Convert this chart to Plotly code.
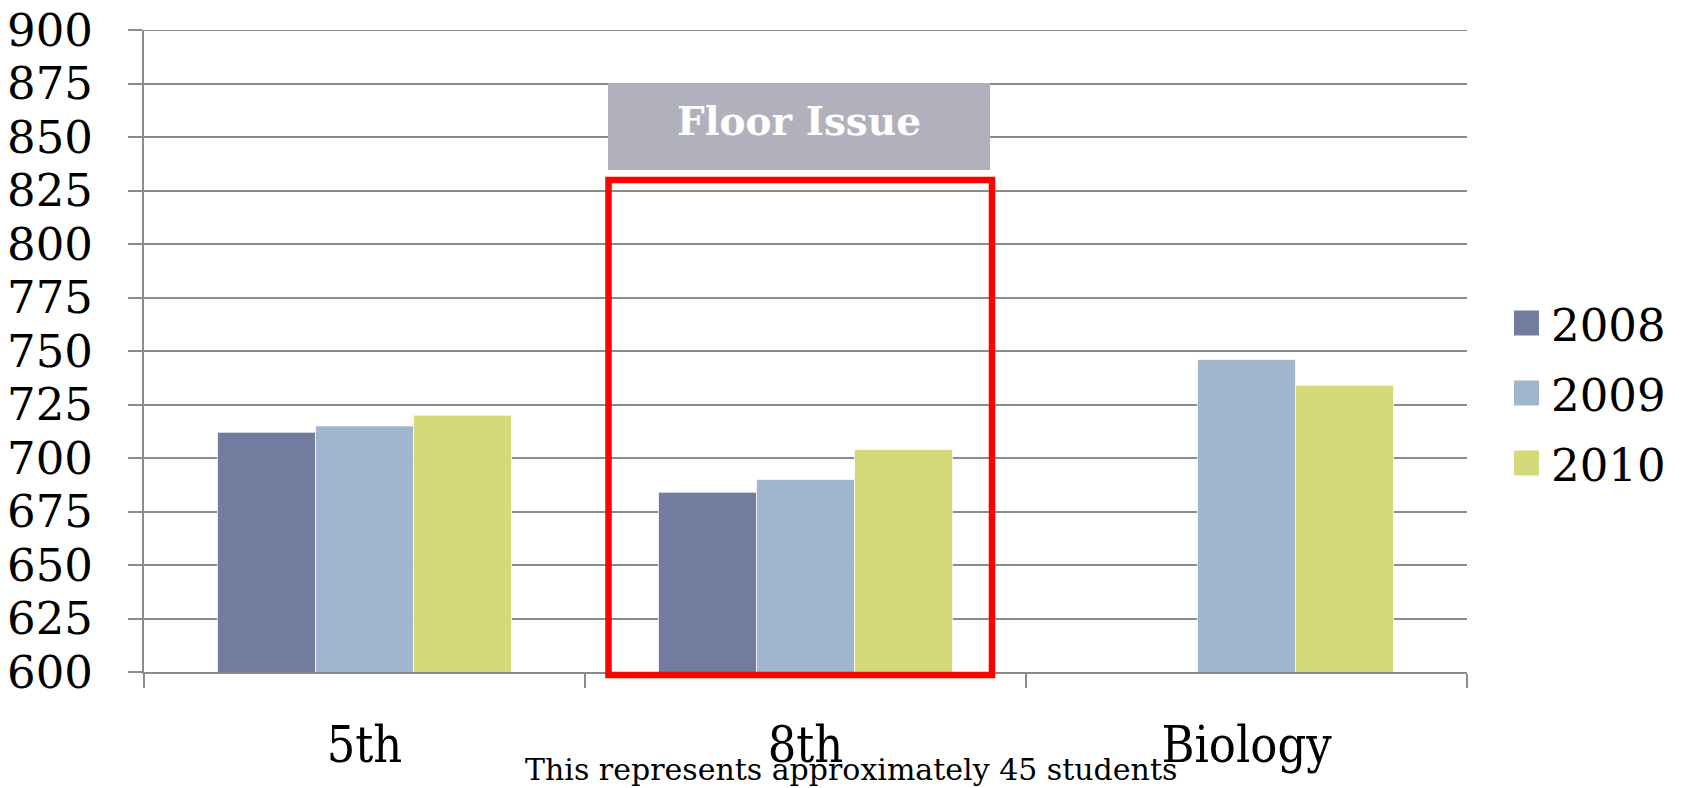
import plotly.graph_objects as go

# ---- data ----
categories = ["5th", "8th", "Biology"]
series_names = ["2008", "2009", "2010"]
values_2008 = [712, 684, None]
values_2009 = [715, 690, 746]
values_2010 = [720, 704, 734]
series_colors = ["#727c9f", "#a1b6cd", "#d4da7a"]
y_ticks = list(range(600, 901, 25))
footnote = "This represents approximately 45 students"
callout = "Floor Issue"

W, H = 1684, 788
OFF = 8  # default page body margin
L, R, T, B = 144, 1467, 30, 672  # plot area in page pixels

def px(x):
    return (x - L) / (R - L)

def py(y):
    return (B - y) / (B - T)

FONT = "DejaVu Serif"
GRID = "#8c8c8c"

fig = go.Figure()
for name, vals, col in zip(series_names, [values_2008, values_2009, values_2010], series_colors):
    fig.add_trace(go.Bar(
        x=categories, y=vals, name=name,
        marker=dict(color=col, line=dict(color="rgba(255,255,255,0.7)", width=1)),
        showlegend=False,
    ))

fig.update_layout(
    width=W, height=H,
    margin=dict(l=L - OFF, r=W - (R - OFF), t=T - OFF, b=H - (B - OFF), pad=0),
    paper_bgcolor="white", plot_bgcolor="white",
    barmode="group", bargap=1/3, bargroupgap=0,
    font=dict(family=FONT, color="black"),
    showlegend=False,
)
fig.update_yaxes(
    range=[600, 900], tickvals=y_ticks, ticktext=[str(v) for v in y_ticks],
    showgrid=True, gridcolor=GRID, gridwidth=2,
    showline=True, linecolor=GRID, linewidth=2,
    ticks="outside", ticklen=14, tickcolor=GRID, tickwidth=2,
    tickfont=dict(family=FONT, size=45, color="black"),
    ticklabelstandoff=26, zeroline=False, automargin=False,
    ticklabeloverflow="allow",
)
fig.update_xaxes(
    showgrid=False, showline=True, linecolor=GRID, linewidth=2,
    ticks="outside", ticklen=14, tickcolor=GRID, tickwidth=2,
    tickson="boundaries",
    tickfont=dict(family="DejaVu Serif Condensed, DejaVu Serif", size=50, color="black"),
    ticklabelstandoff=28, automargin=False, ticklabeloverflow="allow",
)

shapes = []
annotations = []
# top gridline at 900
shapes.append(dict(type="line", xref="paper", yref="y", x0=0, x1=1, y0=900, y1=900,
                   line=dict(color=GRID, width=2), layer="below"))
# gray callout box
shapes.append(dict(type="rect", xref="paper", yref="paper",
                   x0=px(608), x1=px(990), y0=py(170), y1=py(83),
                   fillcolor="#b1b1bd", line=dict(width=0), layer="above"))
annotations.append(dict(text="<b>" + callout + "</b>", xref="paper", yref="paper",
                        x=px(799), y=py(121), xanchor="center", yanchor="middle",
                        showarrow=False, font=dict(family=FONT, size=39, color="white")))
# red highlight rectangle
shapes.append(dict(type="rect", xref="paper", yref="paper",
                   x0=px(608.5), x1=px(992), y0=py(675), y1=py(180),
                   fillcolor="rgba(0,0,0,0)", line=dict(color="#ff0000", width=6.5), layer="above"))
# manual legend
leg_y = [323, 393, 463]
for name, col, yc in zip(series_names, series_colors, leg_y):
    shapes.append(dict(type="rect", xref="paper", yref="paper",
                       x0=px(1514), x1=px(1539), y0=py(yc + 12.5), y1=py(yc - 12.5),
                       fillcolor=col, line=dict(width=0)))
    annotations.append(dict(text=name, xref="paper", yref="paper",
                            x=px(1549), y=py(yc + 2), xanchor="left", yanchor="middle",
                            showarrow=False, font=dict(family=FONT, size=45, color="black")))
# footnote
annotations.append(dict(text=footnote, xref="paper", yref="paper",
                        x=px(851), y=py(770), xanchor="center", yanchor="middle",
                        showarrow=False, font=dict(family=FONT, size=30, color="black")))

fig.update_layout(shapes=shapes, annotations=annotations)
fig.write_html("out.html")
